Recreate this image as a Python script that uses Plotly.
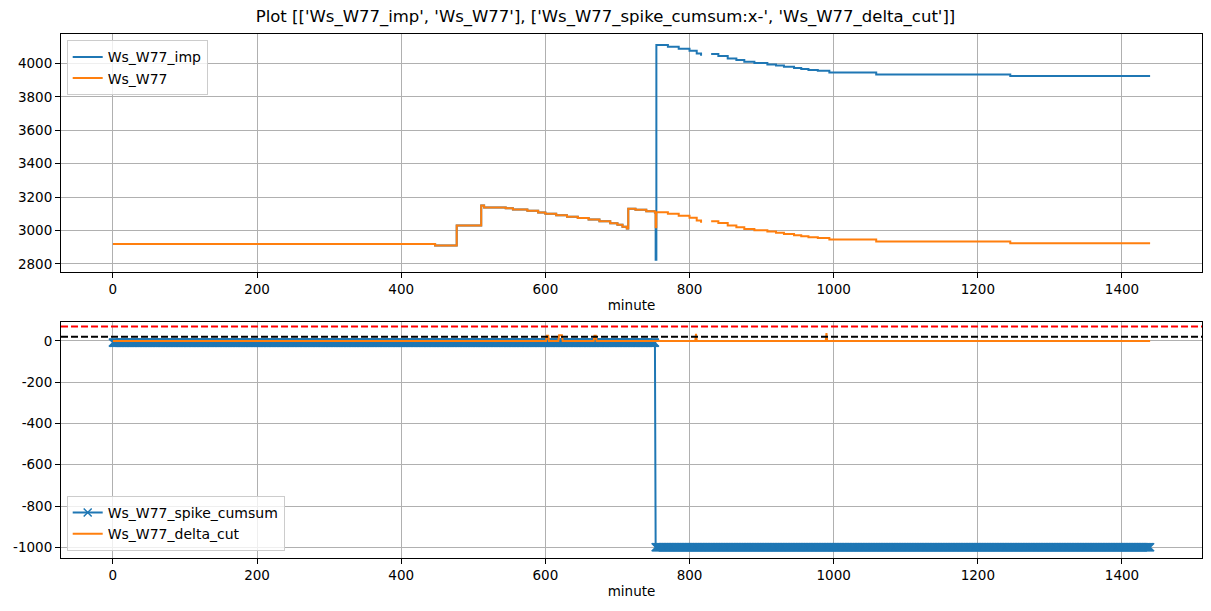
import numpy as np
import plotly.graph_objects as go

# ---------------- data ----------------
# step breakpoints, minute of day
minutes = [0, 447, 477, 511, 515, 545, 555, 575, 590, 600, 615, 630, 645, 660, 675,
           690, 700, 707, 713, 715, 725, 740, 752, 753, 754, 770, 785, 800, 810, 816,
           817, 830, 840, 853, 865, 876, 890, 908, 920, 931, 945, 955, 965, 978, 994,
           1059, 1245, 1439]
ws_w77 = [2920, 2910, 3030, 3150, 3138, 3133, 3126, 3118, 3108, 3100, 3092, 3083, 3075, 3066, 3056,
          3044, 3034, 3022, 3012, 3130, 3124, 3116, 3108, 3020, 3110, 3100, 3088, 3076, 3060, 3046,
          None, 3056, 3045, 3030, 3020, 3010, 3002, 2994, 2987, 2980, 2972, 2966, 2960, 2956, 2946,
          2934, 2924, 2924]
ws_w77_imp = [2920, 2910, 3030, 3150, 3138, 3133, 3126, 3118, 3108, 3100, 3092, 3083, 3075, 3066, 3056,
              3044, 3034, 3022, 3012, 3130, 3124, 3116, 3108, 2825, 4110, 4100, 4088, 4076, 4060, 4046,
              None, 4056, 4045, 4030, 4020, 4010, 4002, 3994, 3987, 3980, 3972, 3966, 3960, 3956, 3946,
              3934, 3924, 3924]

# spike cumsum: step breakpoints and held values (sampled every minute)
day_minutes = list(range(0, 1440))
cumsum_break = [0, 753]
cumsum_value = [-8, -1000]

# delta cut
delta_minutes = [0, 601, 602, 604, 605, 618, 619, 621, 623, 624, 667, 668, 670, 671,
                 808, 809, 810, 989, 990, 991, 1439]
delta_cut = [0, 0, 25, 25, 0, 0, 28, 28, 28, 0, 0, 25, 25, 0,
             0, 35, 0, 0, 38, 0, 0]

upper_thr = 70
lower_thr = 20

x_ticks = [0, 200, 400, 600, 800, 1000, 1200, 1400]
y1_ticks = [2800, 3000, 3200, 3400, 3600, 3800, 4000]
y2_ticks = [0, -200, -400, -600, -800, -1000]

title_text = "Plot [['Ws_W77_imp', 'Ws_W77'], ['Ws_W77_spike_cumsum:x-', 'Ws_W77_delta_cut']]"

# ---------------- build ----------------
idx = np.searchsorted(cumsum_break, day_minutes, side='right') - 1
spike_cumsum = np.array(cumsum_value)[idx]

BLUE = '#1f77b4'
ORANGE = '#ff7f0e'
FONT = 'DejaVu Sans'

fig = go.Figure()
fig.add_trace(go.Scatter(x=minutes, y=ws_w77_imp, mode='lines', name='Ws_W77_imp',
                         line=dict(color=BLUE, width=2, shape='hv'), connectgaps=False,
                         xaxis='x', yaxis='y', legend='legend'))
fig.add_trace(go.Scatter(x=minutes, y=ws_w77, mode='lines', name='Ws_W77',
                         line=dict(color=ORANGE, width=2, shape='hv'), connectgaps=False,
                         xaxis='x', yaxis='y', legend='legend'))
fig.add_trace(go.Scatter(x=day_minutes, y=spike_cumsum, mode='lines+markers', name='Ws_W77_spike_cumsum',
                         line=dict(color=BLUE, width=2),
                         marker=dict(symbol='x-thin', size=8, color=BLUE,
                                     line=dict(width=1.5, color=BLUE)),
                         xaxis='x2', yaxis='y2', legend='legend2'))
fig.add_trace(go.Scatter(x=delta_minutes, y=delta_cut, mode='lines', name='Ws_W77_delta_cut',
                         line=dict(color=ORANGE, width=2),
                         xaxis='x2', yaxis='y2', legend='legend2'))

for thr, col in [(upper_thr, 'red'), (lower_thr, 'black')]:
    fig.add_shape(type='line', xref='x2 domain', yref='y2', x0=0, x1=1, y0=thr, y1=thr,
                  line=dict(color=col, width=2, dash='7px,3px'), layer='above')

axis_common = dict(showline=True, linecolor='black', linewidth=1, mirror=True,
                   ticks='outside', ticklen=5, tickwidth=1, tickcolor='black',
                   showgrid=True, gridcolor='#b0b0b0', gridwidth=1, zeroline=False,
                   automargin=False,
                   tickfont=dict(family=FONT, size=13.5, color='black'))

xr = [-72, 1511]
legend_common = dict(bgcolor='rgba(255,255,255,0.8)', bordercolor='#cccccc', borderwidth=1,
                     font=dict(family=FONT, size=14, color='black'), xanchor='left',
                     x=0.005, tracegroupgap=0, itemwidth=30)

# page body adds ~8px offset; figure sized so the plot areas land where the reference has them
W, H = 1203, 603
fig.update_layout(
    width=W, height=H,
    margin=dict(l=53, r=9, t=26, b=53, autoexpand=False),
    paper_bgcolor='white', plot_bgcolor='white',
    font=dict(family=FONT, size=13.5, color='black'),
    title=dict(text=title_text, x=0.5 - 4 / W, xref='container', xanchor='center',
               y=1 - 8 / H, yref='container', yanchor='middle',
               font=dict(family=FONT, size=16.5, color='black')),
    xaxis=dict(domain=[0, 1], anchor='y', range=xr, tickvals=x_ticks,
               title=dict(text='minute', standoff=4, font=dict(family=FONT, size=13.5)),
               **axis_common),
    yaxis=dict(domain=[0.5458, 1], anchor='x', range=[2752, 4176], tickvals=y1_ticks,
               ticktext=[str(v) for v in y1_ticks], **axis_common),
    xaxis2=dict(domain=[0, 1], anchor='y2', range=xr, tickvals=x_ticks,
                title=dict(text='minute', standoff=4, font=dict(family=FONT, size=13.5)),
                **axis_common),
    yaxis2=dict(domain=[0, 0.4504], anchor='x2', range=[-1052, 92], tickvals=y2_ticks,
                ticktext=[str(v) for v in y2_ticks], **axis_common),
    legend=dict(y=0.988, yanchor='top', **legend_common),
    legend2=dict(y=0.0134, yanchor='bottom', **legend_common),
    showlegend=True,
)

fig.write_html("out.html")
